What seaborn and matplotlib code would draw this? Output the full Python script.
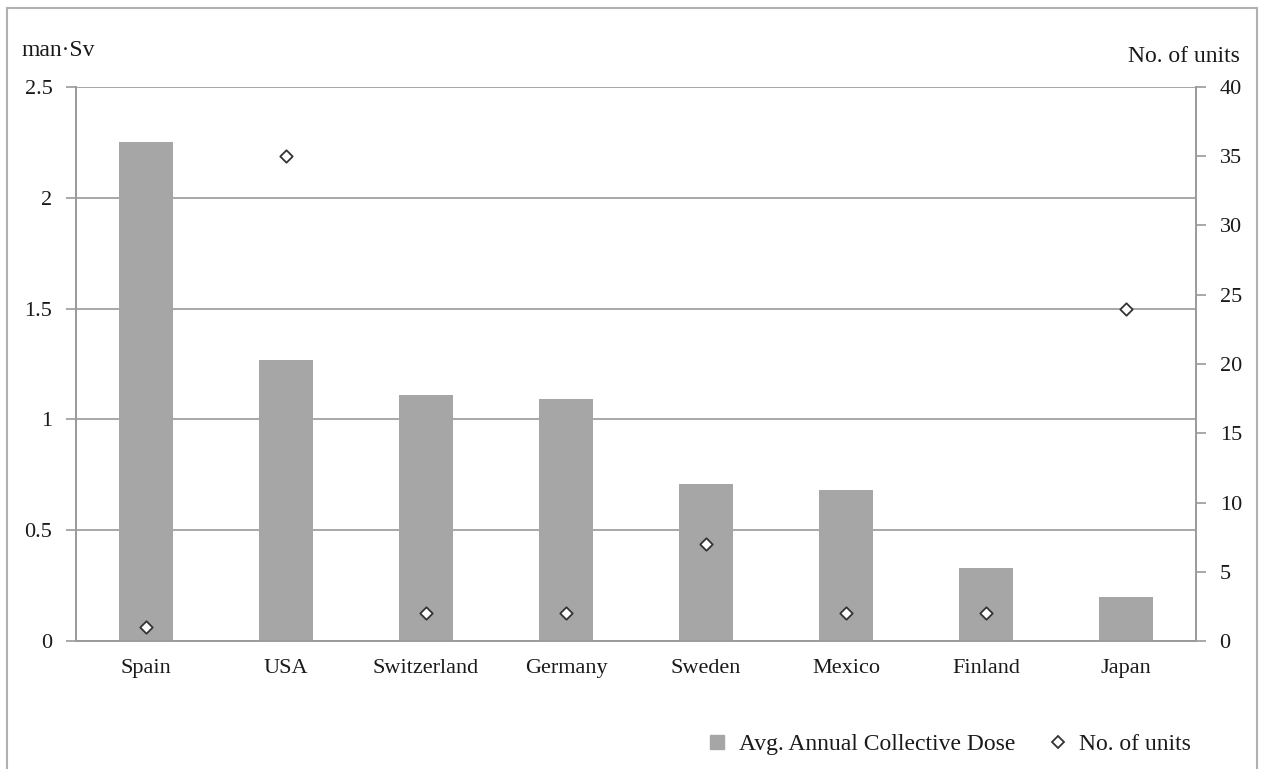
import matplotlib
matplotlib.use("Agg")
import matplotlib.pyplot as plt
from matplotlib.lines import Line2D
from matplotlib.patches import Rectangle
import numpy as np
import pandas as pd
import seaborn as sns

countries = ["Spain", "USA", "Switzerland", "Germany", "Sweden", "Mexico", "Finland", "Japan"]
collective_dose = [2.25, 1.27, 1.11, 1.09, 0.71, 0.68, 0.33, 0.20]
n_units = [1, 35, 2, 2, 7, 2, 2, 24]

df = pd.DataFrame({"country": countries, "dose": collective_dose, "units": n_units})

sns.set_style("white")
plt.rcParams["font.family"] = ["Liberation Serif", "DejaVu Serif"]

BAR = "#a6a6a6"
GRID = "#9a9a9a"
TXT = "#1a1a1a"
FS_TICK = 16
FS_LAB = 17

fig = plt.figure(figsize=(12.61, 7.69), dpi=100)
ax = fig.add_axes([76 / 1261, 128 / 769, 1120 / 1261, 554 / 769])

sns.barplot(data=df, x="country", y="dose", color=BAR, width=0.39,
            saturation=1, ax=ax, zorder=3)
for p in ax.patches:
    p.set_edgecolor("none")

ax.set_ylim(0, 2.5)
ax.set_yticks(np.arange(0, 2.51, 0.5))
ax.set_yticklabels(["0", "0.5", "1", "1.5", "2", "2.5"])
ax.set_xlim(-0.5, len(countries) - 0.5)
ax.yaxis.grid(True, color=GRID, linewidth=1.2, zorder=0)
ax.set_axisbelow(True)
ax.set_xlabel("")
ax.set_ylabel("")

ax2 = ax.twinx()
ax2.set_position(ax.get_position())
sns.scatterplot(x=np.arange(len(countries)), y=df["units"], marker="D", s=40,
                facecolor="white", edgecolor="#333333", linewidth=1.3,
                ax=ax2, zorder=5)
ax2.set_ylim(0, 40)
ax2.set_yticks(np.arange(0, 41, 5))
ax2.set_ylabel("")
ax2.set_xlim(-0.5, len(countries) - 0.5)

for a in (ax, ax2):
    a.spines["top"].set_visible(False)
    for side in ("left", "right", "bottom"):
        a.spines[side].set_color(GRID)
        a.spines[side].set_linewidth(1.2)
    a.tick_params(axis="y", colors=GRID, labelcolor=TXT, labelsize=FS_TICK,
                  length=7, width=1.2, direction="out", pad=10)

# category labels centred, tick marks on category boundaries
ax.set_xticks(np.arange(len(countries)))
ax.set_xticklabels(countries)
ax.set_xticks(np.arange(-0.5, len(countries)), minor=True)
ax.tick_params(axis="x", which="major", length=0, labelsize=FS_TICK,
               labelcolor=TXT, pad=13)
ax.tick_params(axis="x", which="minor", length=7, width=1.2, color=GRID,
               direction="out")
ax2.tick_params(axis="x", bottom=False, labelbottom=False)
ax.set_zorder(ax2.get_zorder() - 1)
ax2.patch.set_visible(False)

fig.text(22 / 1261, 1 - 50 / 769, "man·Sv", fontsize=FS_LAB, color=TXT,
         ha="left", va="center")
fig.text(1240 / 1261, 1 - 56 / 769, "No. of units", fontsize=FS_LAB,
         color=TXT, ha="right", va="center")

handles = [
    Line2D([], [], marker="s", linestyle="none", markersize=10,
           markerfacecolor=BAR, markeredgecolor=BAR),
    Line2D([], [], marker="D", linestyle="none", markersize=6,
           markerfacecolor="white", markeredgecolor="#333333",
           markeredgewidth=1.3),
]
fig.legend(handles, ["Avg. Annual Collective Dose", "No. of units"],
           loc="center right", bbox_to_anchor=(1212 / 1261, 1 - 744 / 769),
           ncol=2, frameon=False, fontsize=FS_LAB, handletextpad=0.3,
           handlelength=1.2, columnspacing=1.2, labelcolor=TXT)

fig.patches.append(Rectangle((7 / 1261, -0.01), 1250 / 1261, 1 - 8 / 769 + 0.01,
                             transform=fig.transFigure, fill=False,
                             edgecolor="#b0b0b0", linewidth=1.5))

fig.savefig("out.png", dpi=100)
